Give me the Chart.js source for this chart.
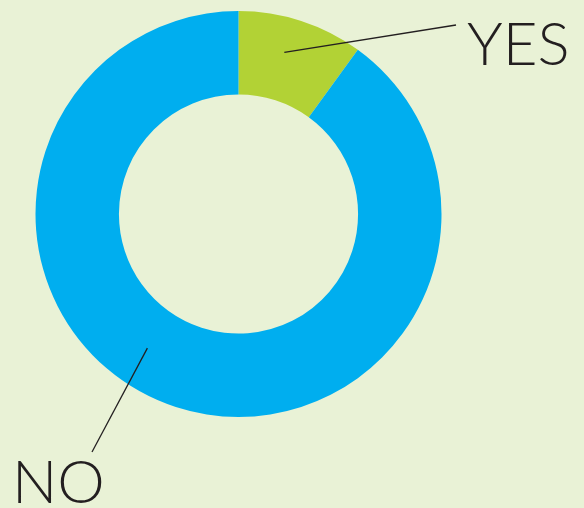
<!DOCTYPE html>
<html>
<head>
<meta charset="utf-8">
<script src="https://cdn.jsdelivr.net/npm/chart.js@4/dist/chart.umd.min.js"></script>
<style>
  html, body { margin: 0; padding: 0; background: #E9F2D6; }
  canvas { display: block; }
</style>
</head>
<body>
<canvas id="chart" width="584" height="508"></canvas>
<script>
const labels = ['YES', 'NO'];
const values = [10, 90];
const colors = ['#B2D235', '#00AEEF'];

// where each leader line starts inside its slice (fraction along the slice, radius fraction of ring)
const leaderStart = [
  { along: 0.44, radial: 0.58 },
  { along: 0.55, radial: 0.51 },
];
// label text anchor (left, baseline) and leader end point, in canvas px
const labelSpots = [
  { x: 467, y: 65, lx: 456, ly: 25 },
  { x: 12, y: 503, lx: 92, ly: 452 },
];

const leaderLabels = {
  id: 'leaderLabels',
  afterDraw(chart) {
    const ctx = chart.ctx;
    const arcs = chart.getDatasetMeta(0).data;
    ctx.save();
    arcs.forEach((arc, i) => {
      const p = arc.getProps(['x', 'y', 'startAngle', 'endAngle', 'innerRadius', 'outerRadius'], true);
      const a = p.startAngle + (p.endAngle - p.startAngle) * leaderStart[i].along;
      const r = p.innerRadius + (p.outerRadius - p.innerRadius) * leaderStart[i].radial;
      const sx = p.x + Math.cos(a) * r;
      const sy = p.y + Math.sin(a) * r;
      const spot = labelSpots[i];

      ctx.beginPath();
      ctx.moveTo(sx, sy);
      ctx.lineTo(spot.lx, spot.ly);
      ctx.strokeStyle = '#231F20';
      ctx.lineWidth = 1.3;
      ctx.stroke();

      ctx.fillStyle = '#231F20';
      ctx.font = '300 60px Lato';
      ctx.textAlign = 'left';
      ctx.textBaseline = 'alphabetic';
      ctx.fillText(labels[i], spot.x, spot.y);
    });
    ctx.restore();
  }
};

new Chart(document.getElementById('chart'), {
  type: 'doughnut',
  data: {
    labels: labels,
    datasets: [{
      data: values,
      backgroundColor: colors,
      borderWidth: 0,
    }],
  },
  options: {
    responsive: false,
    animation: false,
    devicePixelRatio: 1,
    cutout: '58.9%',
    layout: {
      padding: { left: 35.5, right: 142.5, top: 11, bottom: 91 },
    },
    plugins: {
      legend: { display: false },
      tooltip: { enabled: false },
    },
  },
  plugins: [leaderLabels],
});
</script>
</body>
</html>
